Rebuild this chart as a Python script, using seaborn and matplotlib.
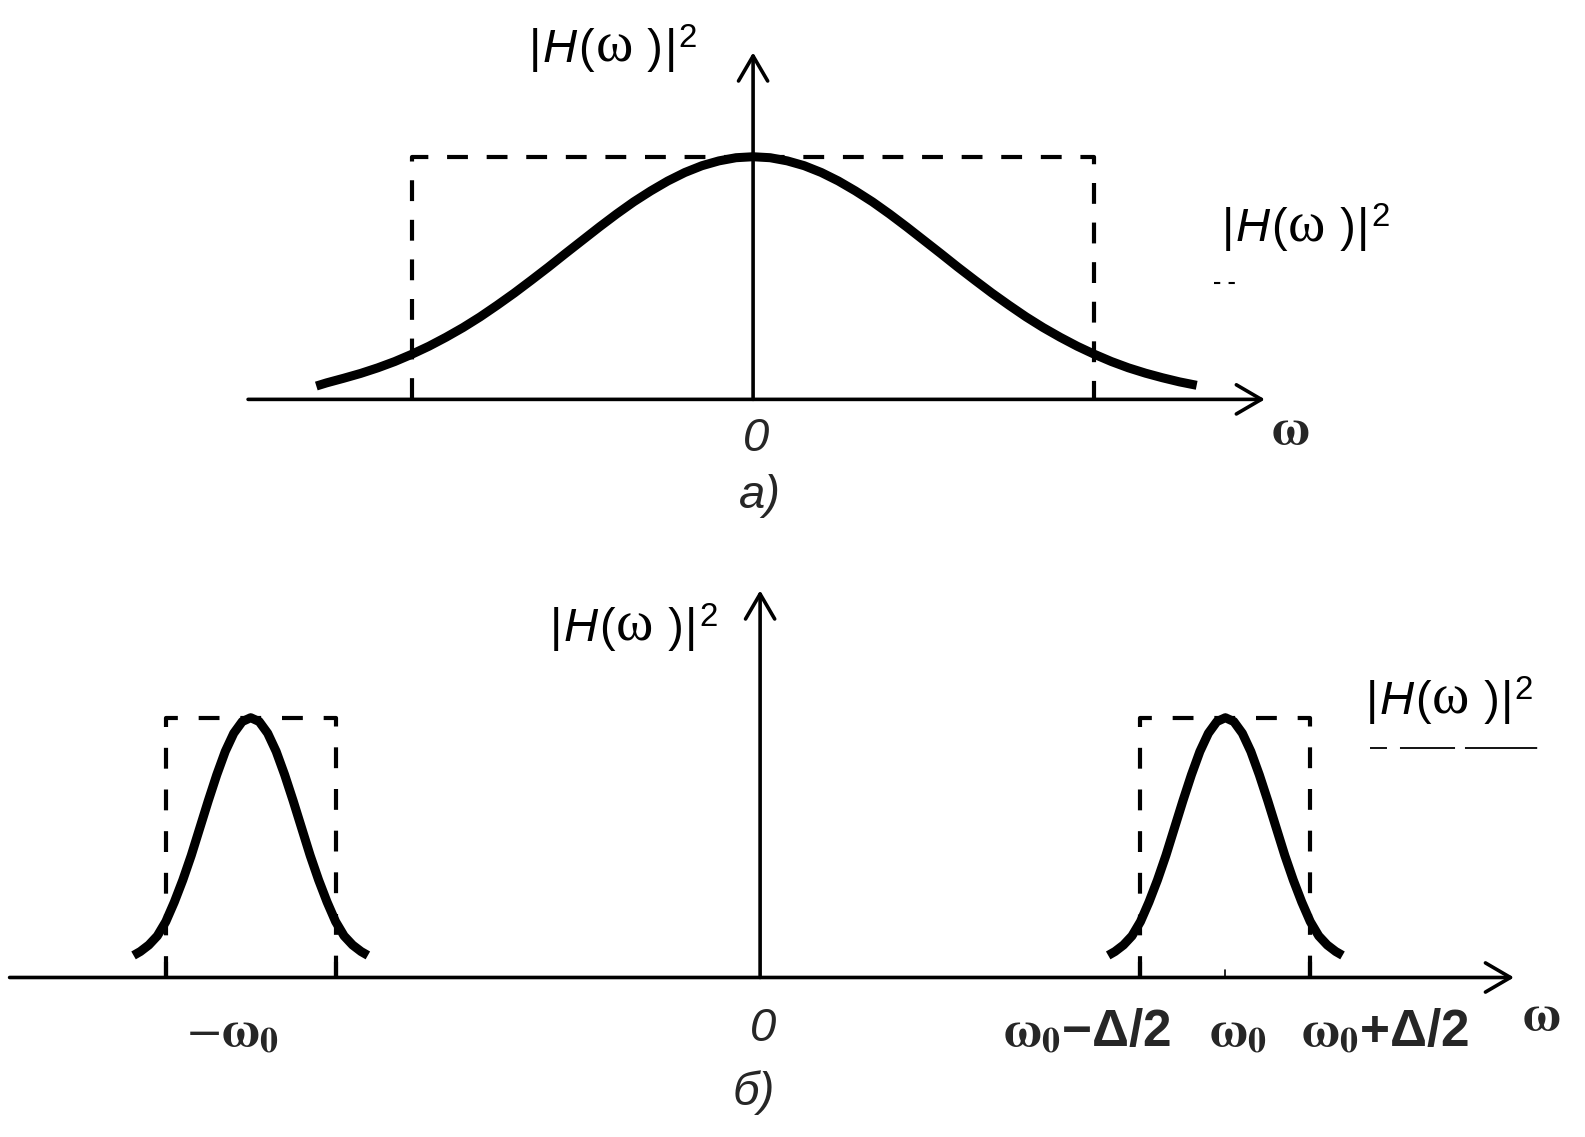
#!/usr/bin/env python3
# -*- coding: utf-8 -*-
"""
|H(w)|^2 schematic: a) low-pass, b) band-pass
"""

import matplotlib
matplotlib.use('Agg')
import matplotlib.pyplot as plt
from matplotlib.offsetbox import TextArea, HPacker, AnnotationBbox
import seaborn as sns

sns.set_theme(style='white')
plt.rcParams['font.family'] = ['Liberation Sans', 'DejaVu Sans']
plt.rcParams['mathtext.fontset'] = 'custom'
plt.rcParams['mathtext.rm'] = 'Liberation Sans'
plt.rcParams['mathtext.it'] = 'Liberation Sans:italic'
plt.rcParams['mathtext.bf'] = 'Liberation Sans:bold'

# --- data ---
# panel a: curve (x in units of the dashed band half-width, y relative to peak)
a_omega = [-1.28, -1.25, -1.20, -1.15, -1.10, -1.05, -1.00, -0.95, -0.90, -0.85, -0.80,
           -0.75, -0.70, -0.65, -0.60, -0.55, -0.50, -0.45, -0.40, -0.35, -0.30, -0.25,
           -0.20, -0.15, -0.10, -0.05, 0.00, 0.05, 0.10, 0.15, 0.20, 0.25, 0.30, 0.35,
           0.40, 0.45, 0.50, 0.55, 0.60, 0.65, 0.70, 0.75, 0.80, 0.85, 0.90, 0.95, 1.00,
           1.05, 1.10, 1.15, 1.20, 1.25, 1.30]
a_level = [0.055, 0.068, 0.087, 0.107, 0.130, 0.156, 0.186, 0.219, 0.256, 0.296, 0.340,
           0.388, 0.438, 0.491, 0.545, 0.601, 0.656, 0.711, 0.764, 0.814, 0.859, 0.900,
           0.935, 0.963, 0.983, 0.996, 1.000, 0.996, 0.983, 0.963, 0.935, 0.900, 0.859, 0.814,
           0.764, 0.711, 0.656, 0.601, 0.545, 0.491, 0.438, 0.388, 0.340, 0.296, 0.256, 0.219, 0.186,
           0.156, 0.130, 0.108, 0.089, 0.072, 0.058]
a_band = [-1.0, 1.0]
a_band_top = 1.0

# panel b: one pulse shape (offset from centre in units of delta/2)
b_offset = [-1.38, -1.3, -1.2, -1.1, -1.0, -0.9, -0.8, -0.7, -0.6, -0.5, -0.4, -0.3, -0.2, -0.1,
            0.0, 0.1, 0.2, 0.3, 0.4, 0.5, 0.6, 0.7, 0.8, 0.9, 1.0, 1.1, 1.2, 1.3, 1.38]
b_level = [0.085, 0.10, 0.125, 0.16, 0.215, 0.29, 0.375, 0.47, 0.575, 0.68, 0.78, 0.87, 0.94,
           0.985, 1.0, 0.985, 0.94, 0.87, 0.78, 0.68, 0.575, 0.47, 0.375, 0.29, 0.215, 0.16,
           0.125, 0.10, 0.085]
b_centers = [-6.0, 5.48]
b_half = 1.0
b_band_top = 1.0

b_tick_labels = [r'$-\mathbf{\omega}_{\mathbf{0}}$', r'$\mathbf{\omega}_{\mathbf{0}}$' + '\u2212\u0394/2',
                 r'$\mathbf{\omega}_{\mathbf{0}}$', r'$\mathbf{\omega}_{\mathbf{0}}$' + '+\u0394/2']
b_tick_pos = [-6.21, 3.85, 5.63, 7.36]

FS = 34
FS_H = 34
FS_TICK = 37
LW_CURVE = 6.5
LW_DASH = 3.0
LW_AXIS = 2.6

fig = plt.figure(figsize=(15.85, 11.37), dpi=100)
ax_a = fig.add_axes([0, 1 - 560 / 1137, 1, 560 / 1137])
ax_b = fig.add_axes([0, 0, 1, 577 / 1137])

for ax in (ax_a, ax_b):
    ax.set_axis_off()

arrow = dict(arrowstyle='->,head_length=0.6,head_width=0.35', lw=LW_AXIS, color='black',
             mutation_scale=30, shrinkA=0, shrinkB=0)
curve_kw = dict(color='black', lw=LW_CURVE, solid_capstyle='butt', solid_joinstyle='round',
                estimator=None, sort=False)


def h_label(ax, x, y, size=FS_H):
    """|H(w )|^2 with italic sans H and upright serif omega"""
    parts = [('|', {}), ('H', {'style': 'italic'}), ('(', {}),
             ('\u03c9', {'family': 'Liberation Serif', 'fontsize': size * 1.2}),
             (' )', {}), ('|', {}), (r'$^{2}$', {})]
    boxes = []
    for t, kw in parts:
        props = dict(fontsize=size, color='black')
        props.update(kw)
        boxes.append(TextArea(t, textprops=props))
    pack = HPacker(children=boxes, align='baseline', pad=0, sep=1)
    ab = AnnotationBbox(pack, (x, y), xycoords='data', frameon=False,
                        box_alignment=(0.5, 0.5), pad=0)
    ax.add_artist(ab)


# ---------------- panel a ----------------
ax_a.set_xlim(-2.207, 2.438)
ax_a.set_ylim(-0.662, 1.646)

ax_a.annotate('', xy=(1.50, 0), xytext=(-1.48, 0), arrowprops=arrow)
ax_a.annotate('', xy=(0, 1.43), xytext=(0, 0), arrowprops=arrow)

rect_x = [a_band[0], a_band[0], a_band[1], a_band[1]]
rect_y = [0, a_band_top, a_band_top, 0]
ax_a.plot(rect_x, rect_y, color='black', lw=LW_DASH, dashes=(5, 4.5))
sns.lineplot(x=a_omega, y=a_level, ax=ax_a, **curve_kw)

h_label(ax_a, -0.41, 1.45)
ax_a.text(0.01, -0.165, '0', fontsize=FS, style='italic', ha='center', va='center')
ax_a.text(1.575, -0.13, r'$\mathbf{\omega}$', fontsize=FS_TICK, ha='center', va='center',
          math_fontfamily='stix')
ax_a.text(0.02, -0.40, 'a)', fontsize=FS, style='italic', ha='center', va='center')
h_label(ax_a, 1.62, 0.71)
ax_a.plot([1.35, 1.42], [0.48, 0.48], color='black', lw=1.5, dashes=(3, 4))

# ---------------- panel b ----------------
ax_b.set_xlim(-8.953, 9.716)
ax_b.set_ylim(-0.614, 1.607)

ax_b.annotate('', xy=(8.88, 0), xytext=(-8.84, 0), arrowprops=arrow)
ax_b.annotate('', xy=(0, 1.49), xytext=(0, 0), arrowprops=arrow)

for c in b_centers:
    lo, hi = c - b_half, c + b_half
    ax_b.plot([lo, lo, hi, hi], [0, b_band_top, b_band_top, 0], color='black',
              lw=LW_DASH, dashes=(5, 5))
    sns.lineplot(x=[c + o for o in b_offset], y=b_level, ax=ax_b, **curve_kw)
    for e in (lo, hi):
        ax_b.plot([e, e], [0, 0.06], color='black', lw=LW_DASH)
ax_b.plot([b_centers[1], b_centers[1]], [0, 0.03], color='black', lw=1.2)

for pos, lab in zip(b_tick_pos, b_tick_labels):
    ax_b.text(pos, -0.215, lab, fontsize=FS_TICK, fontweight='bold', ha='center', va='center',
              math_fontfamily='stix')

ax_b.text(9.2, -0.15, r'$\mathbf{\omega}$', fontsize=FS_TICK, ha='center', va='center',
          math_fontfamily='stix')
ax_b.text(0.04, -0.20, '0', fontsize=FS, style='italic', ha='center', va='center')
ax_b.text(-0.08, -0.445, 'б)', fontsize=FS, style='italic', ha='center', va='center')
h_label(ax_b, -1.49, 1.35)
h_label(ax_b, 8.12, 1.07)
ax_b.plot([7.18, 9.18], [0.885, 0.885], color='black', lw=1.3,
          dashes=(9.4, 7.2, 30.5, 5.5, 40, 20))

fig.savefig('out.png', dpi=100)
plt.close(fig)
